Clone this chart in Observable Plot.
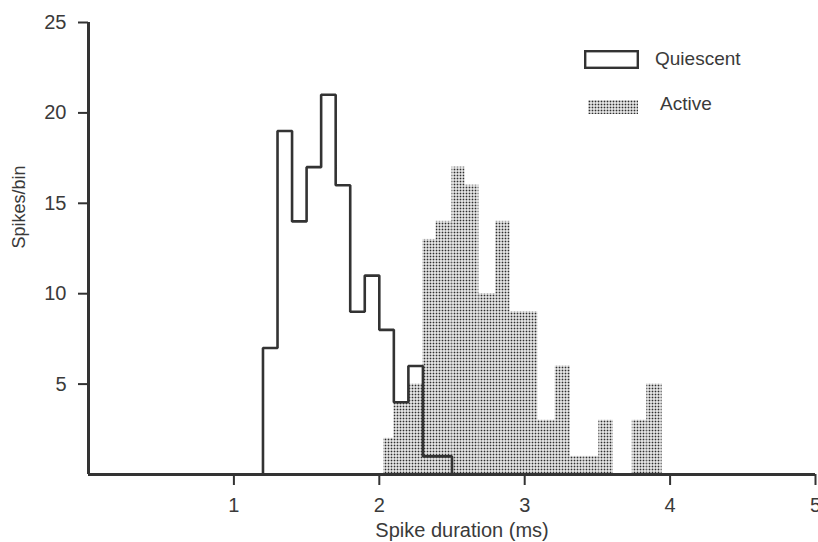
<!DOCTYPE html>
<html><head><meta charset="utf-8">
<script src="https://cdn.jsdelivr.net/npm/d3@7"></script>
<script src="https://cdn.jsdelivr.net/npm/@observablehq/plot@0.6"></script>
<style>
body{margin:0;background:#fff;}
#wrap{position:relative;width:818px;height:542px;overflow:hidden;background:#fff;}
.lg{position:absolute;font-family:"Liberation Sans",Arial,sans-serif;font-size:19px;color:#3a3a3a;line-height:1;}
</style></head><body>
<svg width="0" height="0" style="position:absolute">
  <defs>
    <pattern id="dots" width="3" height="3" patternUnits="userSpaceOnUse">
      <rect x="0.6" y="0.6" width="1.8" height="1.8" fill="#2e2e2e"></rect>
    </pattern>
  </defs>
</svg>
<div id="wrap"></div>
<script>
// Quiescent histogram (bin edges in ms, counts per bin)
const quiescentEdges = [1.2,1.3,1.4,1.5,1.6,1.7,1.8,1.9,2.0,2.1,2.2,2.3,2.4,2.5];
const quiescentCounts = [7,19,14,17,21,16,9,11,8,4,6,1,1];
// Active histogram (bin edges in ms, counts per bin)
const activeEdges = [2.03,2.1,2.2,2.3,2.39,2.5,2.59,2.685,2.8,2.9,3.0,3.09,3.21,3.315,3.41,3.51,3.61,3.74,3.84,3.945];
const activeCounts = [2,4,5,13,14,17,16,10,14,9,9,3,6,1,1,3,0,3,5];
// Axes
const xTicks = [1,2,3,4,5];
const yTicks = [5,10,15,20,25];
const xTitle = "Spike duration (ms)";
const yTitle = "Spikes/bin";
const seriesNames = ["Quiescent","Active"];

const activeBins = activeCounts.map((c,i)=>({x1:activeEdges[i], x2:activeEdges[i+1], y:c}));
const qLine = [{x:quiescentEdges[0], y:0}];
quiescentCounts.forEach((c,i)=>{ qLine.push({x:quiescentEdges[i], y:c}); qLine.push({x:quiescentEdges[i+1], y:c}); });
qLine.push({x:quiescentEdges[quiescentEdges.length-1], y:0});

const ink = "#333";
const chart = Plot.plot({
  width: 818, height: 542,
  marginLeft: 88, marginRight: 3, marginTop: 22, marginBottom: 68,
  style: {fontFamily: '"Liberation Sans", Arial, sans-serif', fontSize: "20px", color: "#3a3a3a", background: "#fff"},
  x: {domain: [0,5]},
  y: {domain: [0,25]},
  marks: [
    Plot.rectY(activeBins, {x1:"x1", x2:"x2", y:"y", fill:"url(#dots)", inset:0}),
    Plot.line(qLine, {x:"x", y:"y", stroke: ink, strokeWidth: 2.6, strokeLinejoin:"miter", strokeLinecap:"square"}),
    Plot.axisX({ticks: xTicks, tickSize: 11, tickPadding: 12, tickFormat: d=>String(d), label: null, stroke: ink, strokeWidth: 2, fontSize: 20}),
    Plot.axisY({ticks: yTicks, tickSize: 10, tickPadding: 12, tickFormat: d=>String(d), label: null, stroke: ink, strokeWidth: 2, fontSize: 20}),
    Plot.ruleY([0], {stroke: ink, strokeWidth: 3}),
    Plot.ruleX([0], {stroke: ink, strokeWidth: 3}),
    Plot.text([xTitle], {frameAnchor:"bottom", dy: 48, dx: 10, lineAnchor:"top", fontSize: 20, fill:"#3a3a3a"}),
    Plot.text([yTitle], {frameAnchor:"left", dx: -69, rotate: -90, lineAnchor:"middle", fontSize: 18, fill:"#3a3a3a"})
  ]
});
const wrap = document.getElementById("wrap");
wrap.appendChild(chart);

// Legend
function add(html, style){ const d=document.createElement("div"); d.className="lg"; d.innerHTML=html; Object.assign(d.style, style); wrap.appendChild(d); }
add('<svg width="55" height="19"><rect x="1.2" y="1.2" width="52.6" height="16.6" fill="none" stroke="#333" stroke-width="2.4"/></svg>', {left:"584px", top:"50px"});
add(seriesNames[0], {left:"655px", top:"49px"});
add('<svg width="50" height="14"><rect x="0" y="0" width="50" height="14" fill="url(#dots)"/></svg>', {left:"588px", top:"98px"});
add(seriesNames[1], {left:"660px", top:"94px"});
</script>
</body></html>
